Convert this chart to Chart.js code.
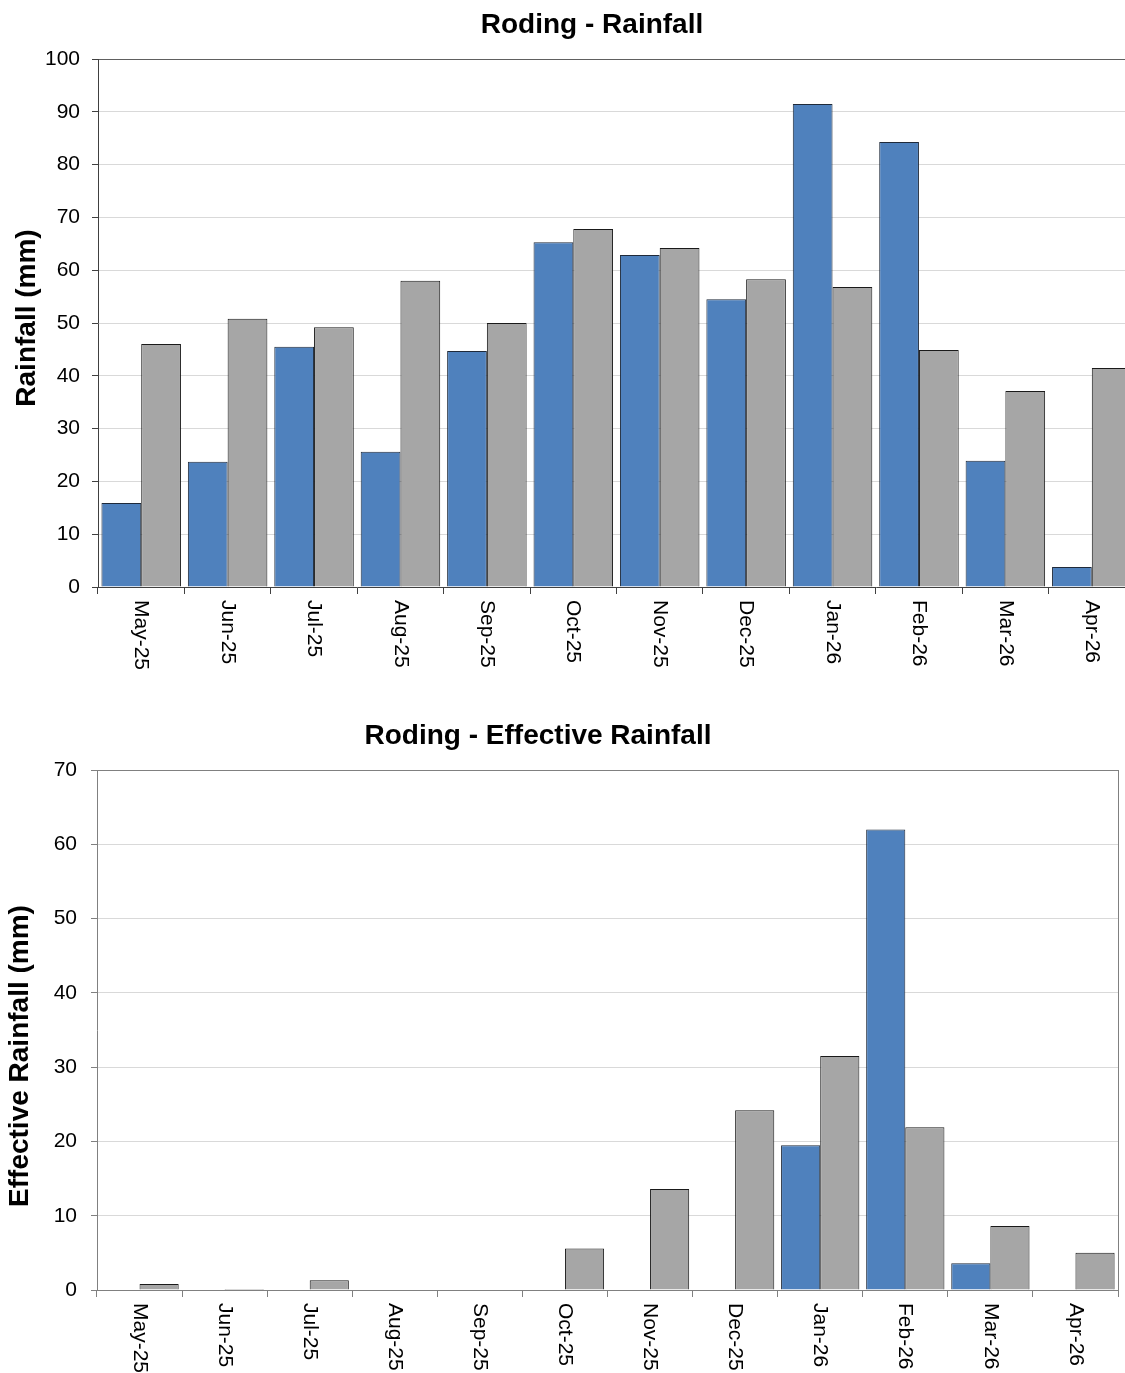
<!DOCTYPE html>
<html>
<head>
<meta charset="utf-8">
<script src="https://cdn.jsdelivr.net/npm/chart.js@4.4.1/dist/chart.umd.min.js"></script>
<style>
  html, body { margin: 0; padding: 0; background: #fff; overflow: hidden; width: 1125px; height: 1373px; }
  #rain { position: absolute; left: 0; top: 0; }
  #effective { position: absolute; left: 0; top: 700px; }
</style>
</head>
<body>
<canvas id="rain" width="1140" height="695"></canvas>
<canvas id="effective" width="1125" height="673"></canvas>
<script>
const months = ["May-25", "Jun-25", "Jul-25", "Aug-25", "Sep-25", "Oct-25",
  "Nov-25", "Dec-25", "Jan-26", "Feb-26", "Mar-26", "Apr-26"];

// Roding - Rainfall (mm)
const rainfall = [15.9, 23.7, 45.5, 25.6, 44.7, 65.3, 62.9, 54.5, 91.5, 84.3, 23.9, 3.8];
const rainfallAvg = [46.0, 50.8, 49.2, 58.0, 50.0, 67.8, 64.2, 58.3, 56.8, 44.9, 37.1, 41.5];

// Roding - Effective Rainfall (mm)
const effRainfall = [0, 0, 0, 0, 0, 0, 0, 0, 19.5, 62.0, 3.6, 0];
const effRainfallAvg = [0.8, 0.15, 1.3, 0, 0, 5.6, 13.6, 24.2, 31.5, 21.9, 8.6, 5.0];

const rainMax = 100;
const effMax = 70;

const FONT = "'Liberation Sans', Arial, sans-serif";

// titles + clockwise month labels + optional right frame line
const chartText = {
  id: "chartText",
  afterDraw(chart, args, opts) {
    const ctx = chart.ctx;
    const xs = chart.scales.x;
    const area = chart.chartArea;
    ctx.save();
    if (opts.rightBorder) {
      ctx.strokeStyle = opts.frameColor;
      ctx.lineWidth = 1;
      ctx.beginPath();
      ctx.moveTo(Math.round(area.right) + 0.5, area.top);
      ctx.lineTo(Math.round(area.right) + 0.5, area.bottom);
      ctx.stroke();
    }
    ctx.fillStyle = "#000";
    ctx.font = "bold 28px " + FONT;
    ctx.textAlign = "center";
    ctx.textBaseline = "alphabetic";
    ctx.fillText(opts.title, opts.titleX, opts.titleY);

    ctx.save();
    ctx.translate(opts.yTitleX, opts.yTitleY);
    ctx.rotate(-Math.PI / 2);
    ctx.textBaseline = "middle";
    ctx.fillText(opts.yTitle, 0, 0);
    ctx.restore();

    ctx.font = "21px " + FONT;
    ctx.textAlign = "left";
    ctx.textBaseline = "middle";
    xs.ticks.forEach((t, i) => {
      ctx.save();
      ctx.translate(xs.getPixelForTick(i), xs.top + 13);
      ctx.rotate(Math.PI / 2);
      ctx.fillText(xs.getLabelForValue(t.value), 0, 0);
      ctx.restore();
    });
    ctx.restore();
  }
};

function makeChart(id, seriesA, seriesB, max, cfg) {
  return new Chart(document.getElementById(id), {
    type: "bar",
    data: {
      labels: months,
      datasets: [
        {
          label: "2025-26",
          data: seriesA,
          backgroundColor: "#4F81BD",
          borderColor: "#1f2a3a",
          borderWidth: 1,
          barPercentage: 1,
          categoryPercentage: 0.92,
        },
        {
          label: "Long term average",
          data: seriesB,
          backgroundColor: "#A6A6A6",
          borderColor: "#1a1a1a",
          borderWidth: 1,
          barPercentage: 1,
          categoryPercentage: 0.92,
        },
      ],
    },
    options: {
      responsive: false,
      animation: false,
      layout: { padding: cfg.padding },
      plugins: {
        legend: { display: false },
        tooltip: { enabled: false },
        chartText: cfg.text,
      },
      scales: {
        x: {
          offset: true,
          grid: {
            offset: true,
            drawOnChartArea: false,
            tickLength: 7,
            tickColor: cfg.axisColor,
          },
          border: { color: cfg.axisColor, width: 1 },
          ticks: { display: false },
          afterFit: (s) => { s.height = cfg.xHeight; },
        },
        y: {
          min: 0,
          max: max,
          grid: {
            color: (c) => (c.tick && c.tick.value === max ? cfg.frameColor : "#d9d9d9"),
            tickLength: 6,
            tickColor: cfg.axisColor,
          },
          border: { color: cfg.axisColor, width: 1 },
          ticks: {
            stepSize: 10,
            color: "#000",
            padding: cfg.yPad,
            font: { family: FONT, size: 21 },
          },
          afterFit: (s) => { s.width = cfg.yWidth; },
        },
      },
    },
    plugins: [chartText],
  });
}

makeChart("rain", rainfall, rainfallAvg, rainMax, {
  padding: { top: 59, right: 5, bottom: 0, left: 0 },
  xHeight: 108,
  yWidth: 98,
  yPad: 12,
  axisColor: "#404040",
  frameColor: "#606060",
  text: {
    title: "Roding - Rainfall",
    titleX: 592,
    titleY: 33,
    yTitle: "Rainfall (mm)",
    yTitleX: 27,
    yTitleY: 318,
    rightBorder: false,
    frameColor: "#606060",
  },
});

makeChart("effective", effRainfall, effRainfallAvg, effMax, {
  padding: { top: 70, right: 7, bottom: 0, left: 0 },
  xHeight: 83,
  yWidth: 97,
  yPad: 14,
  axisColor: "#808080",
  frameColor: "#808080",
  text: {
    title: "Roding - Effective Rainfall",
    titleX: 538,
    titleY: 44,
    yTitle: "Effective Rainfall (mm)",
    yTitleX: 20,
    yTitleY: 356,
    rightBorder: true,
    frameColor: "#808080",
  },
});
</script>
</body>
</html>
